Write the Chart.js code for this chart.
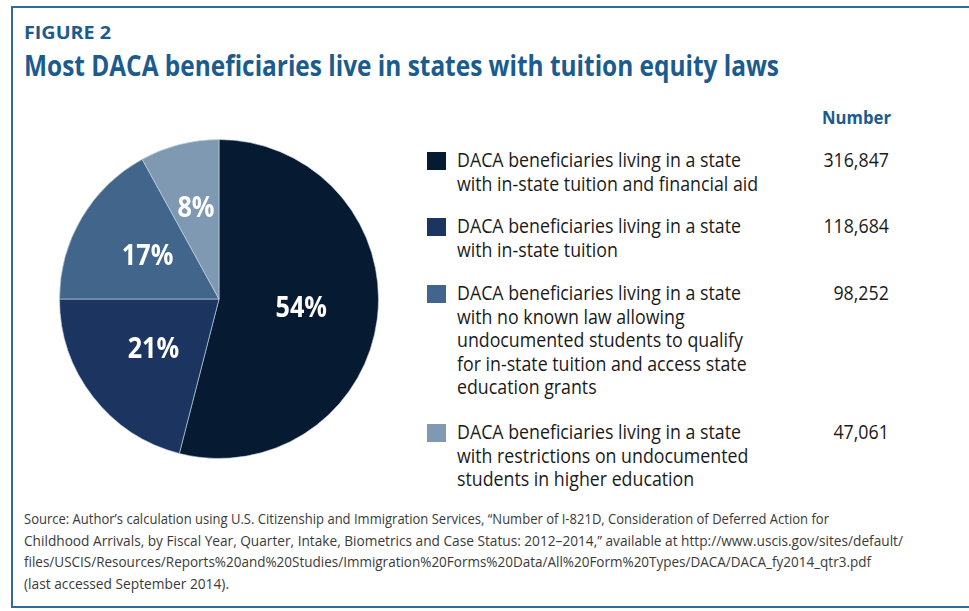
<!DOCTYPE html>
<html>
<head>
<meta charset="utf-8">
<script src="https://cdn.jsdelivr.net/npm/chart.js@4.4.1/dist/chart.umd.min.js"></script>
<style>
  html, body { margin: 0; padding: 0; background: #fff; }
  body { width: 969px; height: 611px; position: relative; overflow: hidden; font-family: "Open Sans", "Noto Sans", sans-serif; }
  .frame { position: absolute; left: 11px; top: 6px; width: 1000px; height: 598px; border: 2px solid #2f6a9b; border-right: none; }
  .fit { position: absolute; white-space: nowrap; transform-origin: 0 0; }
  #fig { left: 24px; top: 20px; font-size: 18px; font-weight: 700; color: #1b5b8e; line-height: 24px; }
  #title { left: 24px; top: 46px; font-size: 28px; font-weight: 700; color: #1b5b8e; line-height: 38px; }
  #numHead { left: 822px; top: 105px; font-size: 18px; font-weight: 700; color: #1b5b8e; line-height: 24px; }
  .sw { position: absolute; left: 427px; width: 19px; height: 18px; }
  .lt { left: 457px; font-size: 19.5px; line-height: 23.6px; color: #1a1a1a; white-space: pre; }
  .num { font-size: 19.5px; line-height: 23.6px; color: #1a1a1a; transform-origin: 100% 0; text-align: right; }
  .src { left: 24px; font-size: 14.5px; line-height: 21.5px; color: #3a3a3a; }
  #pieBox { position: absolute; left: 49px; top: 129px; width: 340px; height: 340px; }
</style>
</head>
<body>
<div class="frame"></div>
<div id="fig" class="fit">FIGURE 2</div>
<div id="title" class="fit">Most DACA beneficiaries live in states with tuition equity laws</div>
<div id="numHead" class="fit">Number</div>
<div id="legend"></div>
<div id="source"></div>
<div id="pieBox"><canvas id="pieChart"></canvas></div>

<script>
// data
const categories = [
  'DACA beneficiaries living in a state\nwith in-state tuition and financial aid',
  'DACA beneficiaries living in a state\nwith in-state tuition',
  'DACA beneficiaries living in a state\nwith no known law allowing\nundocumented students to qualify\nfor in-state tuition and access state\neducation grants',
  'DACA beneficiaries living in a state\nwith restrictions on undocumented\nstudents in higher education'
];
const shares = [54, 21, 17, 8];
const counts = [316847, 118684, 98252, 47061];

const sourceLines = [
  'Source: Author\u2019s calculation using U.S. Citizenship and Immigration Services, \u201cNumber of I-821D, Consideration of Deferred Action for',
  'Childhood Arrivals, by Fiscal Year, Quarter, Intake, Biometrics and Case Status: 2012\u20132014,\u201d available at http://www.uscis.gov/sites/default/',
  'files/USCIS/Resources/Reports%20and%20Studies/Immigration%20Forms%20Data/All%20Form%20Types/DACA/DACA_fy2014_qtr3.pdf',
  '(last accessed September 2014).'
];

const colors = ['#061a31', '#1c3560', '#42658b', '#7f99b3'];
const itemTops = [152, 218, 285, 424];
const sourceWidths = [805, 879, 847, 205];

function squeeze(el, target) {
  const w = el.getBoundingClientRect().width;
  el.style.transform = 'scaleX(' + (target / w) + ')';
}
function measure(text, font) {
  const c = document.createElement('canvas').getContext('2d');
  c.font = font;
  return c.measureText(text).width;
}

// legend
const legend = document.getElementById('legend');
const kLegend = 284 / measure('DACA beneficiaries living in a state', '19.5px "Open Sans"');
categories.forEach((cat, i) => {
  const sw = document.createElement('div');
  sw.className = 'sw';
  sw.style.top = itemTops[i] + 'px';
  sw.style.background = colors[i];
  legend.appendChild(sw);

  const t = document.createElement('div');
  t.className = 'fit lt';
  t.style.top = (itemTops[i] - 4) + 'px';
  t.textContent = cat;
  t.style.transform = 'scaleX(' + kLegend + ')';
  legend.appendChild(t);

  const n = document.createElement('div');
  n.className = 'fit num';
  n.style.top = (itemTops[i] - 4) + 'px';
  n.style.right = (969 - 889) + 'px';
  n.textContent = counts[i].toLocaleString('en-US');
  n.style.transform = 'scaleX(' + kLegend + ')';
  legend.appendChild(n);
});

// source note, one line at a time
const source = document.getElementById('source');
sourceLines.forEach((line, i) => {
  const d = document.createElement('div');
  d.className = 'fit src';
  d.style.top = (508 + i * 21.5) + 'px';
  d.textContent = line;
  source.appendChild(d);
  squeeze(d, sourceWidths[i]);
});

squeeze(document.getElementById('title'), 755);
squeeze(document.getElementById('fig'), 87);
squeeze(document.getElementById('numHead'), 69);

// percentage labels inside the slices
const sliceLabels = {
  id: 'sliceLabels',
  afterDatasetsDraw(chart) {
    const ctx = chart.ctx;
    const meta = chart.getDatasetMeta(0);
    ctx.save();
    ctx.fillStyle = '#ffffff';
    ctx.font = 'bold 28px "Open Sans"';
    ctx.textAlign = 'center';
    ctx.textBaseline = 'middle';
    meta.data.forEach((arc, i) => {
      const p = arc.getProps(['x', 'y', 'startAngle', 'endAngle', 'outerRadius'], true);
      const mid = (p.startAngle + p.endAngle) / 2;
      const r = p.outerRadius * (shares[i] < 10 ? 0.58 : 0.52);
      const txt = shares[i] + '%';
      ctx.fillText(txt, p.x + Math.cos(mid) * r, p.y + Math.sin(mid) * r, measure(txt, ctx.font) * 0.9);
    });
    ctx.restore();
  }
};

new Chart(document.getElementById('pieChart').getContext('2d'), {
  type: 'pie',
  data: {
    labels: categories,
    datasets: [{
      data: shares,
      backgroundColor: colors,
      borderColor: 'rgba(200, 215, 230, 0.6)',
      borderWidth: 1
    }]
  },
  options: {
    responsive: true,
    maintainAspectRatio: false,
    animation: false,
    layout: { padding: 10 },
    plugins: {
      legend: { display: false },
      tooltip: { enabled: false }
    }
  },
  plugins: [sliceLabels]
});
</script>
</body>
</html>
